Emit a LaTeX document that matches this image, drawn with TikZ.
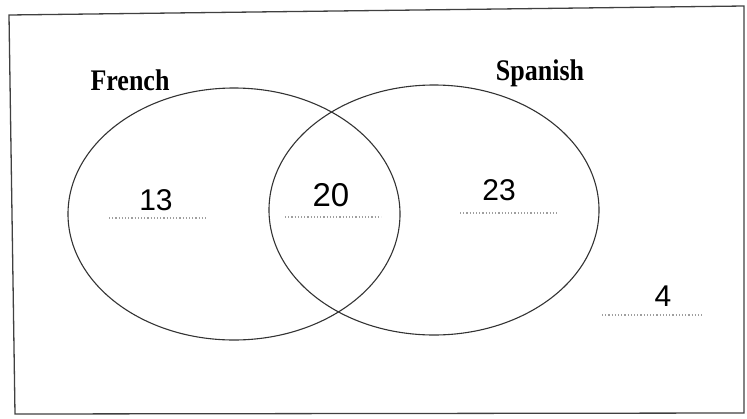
\documentclass[tikz,border=0pt]{standalone}
\usepackage{fontspec}
\setmainfont{Liberation Serif}
\newfontfamily\handfont{Liberation Sans}
\usetikzlibrary{positioning}

\begin{document}
\begin{tikzpicture}[
  x=1pt, y=-1pt,
  frame line/.style={draw=black!75, line width=1.3pt},
  set ring/.style={draw=black!80, line width=1.1pt},
  set label/.style={font=\fontsize{26}{28}\selectfont\bfseries, inner sep=0pt, yscale=1.15},
  count/.style={font=\handfont\fontsize{30}{32}\selectfont, inner sep=0pt},
  answer line/.style={draw=gray!75, dotted, line width=1.2pt},
]
  \useasboundingbox (0,0) rectangle (747,418);
  \draw[frame line] (9,15) -- (744,6) -- (744,413) -- (15,414) -- cycle;

  \draw[set ring] (234,214) ellipse [x radius=166, y radius=126];
  \draw[set ring] (434,210) ellipse [x radius=165, y radius=125];

  \node[set label] (french) at (130,80) {French};
  \node[set label] (spanish) at (540,73) {Spanish};

  \node[count] (onlyF) at (156,200) {13};
  \node[count, font=\handfont\fontsize{33}{35}\selectfont] (both) at (331,195) {20};
  \node[count] (onlyS) at (499,190) {23};
  \node[count] (neither) at (663,296) {4};

  \coordinate (lineFa) at (109,218);  \coordinate (lineFb) at (206,218);
  \coordinate (lineBa) at (285,217);  \coordinate (lineBb) at (381,217);
  \coordinate (lineSa) at (460,213);  \coordinate (lineSb) at (558,213);
  \coordinate (lineNa) at (602,315);  \coordinate (lineNb) at (702,315);
  \draw[answer line] (lineFa) -- (lineFb);
  \draw[answer line] (lineBa) -- (lineBb);
  \draw[answer line] (lineSa) -- (lineSb);
  \draw[answer line] (lineNa) -- (lineNb);
\end{tikzpicture}
\end{document}
